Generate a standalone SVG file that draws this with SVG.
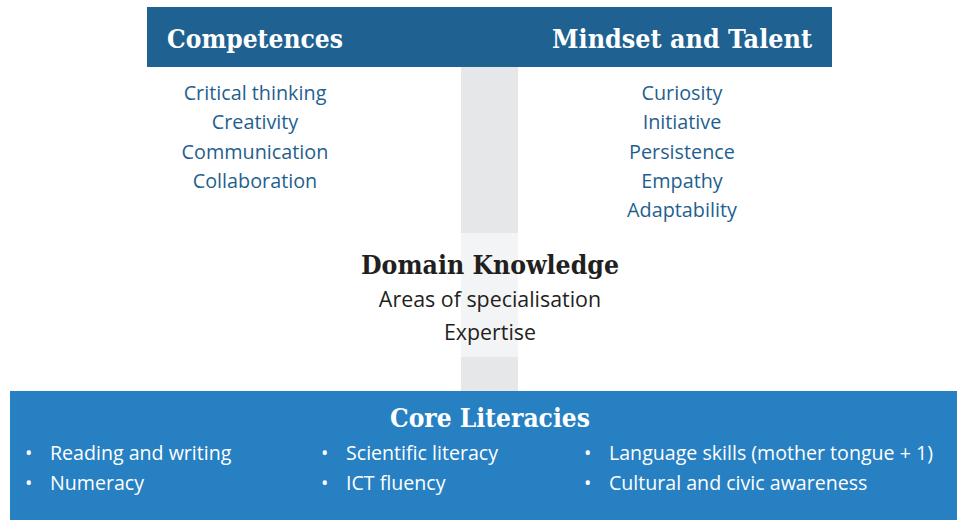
<svg xmlns="http://www.w3.org/2000/svg" width="957" height="520" viewBox="0 0 957 520">
<style>
.hd{font-family:"DejaVu Serif",serif;font-weight:bold;font-size:26px;fill:#ffffff}
.hk{font-family:"DejaVu Serif",serif;font-weight:bold;font-size:26px;fill:#231f20}
.it{font-family:"Open Sans","Noto Sans",sans-serif;font-size:19.8px;fill:#1f5f8f;text-anchor:middle}
.dk{font-family:"Open Sans","Noto Sans",sans-serif;font-size:21.4px;fill:#231f20;text-anchor:middle}
.cl{font-family:"Open Sans","Noto Sans",sans-serif;font-size:19.6px;fill:#ffffff}
</style>
<rect width="957" height="520" fill="#ffffff"/>
<g id="spine">
<rect x="461" y="67" width="57" height="166" fill="#e6e7e9"/>
<rect x="461" y="233" width="57" height="124" fill="#f3f4f6"/>
<rect x="461" y="357" width="57" height="34" fill="#e6e7e9"/>
</g>
<g id="top-bar">
<rect x="147" y="7" width="685" height="60" fill="#1f6190"/>
</g>
<g id="competences">
<text class="hd" x="167" y="48" textLength="176" lengthAdjust="spacingAndGlyphs">Competences</text>
<text class="it" x="255" y="100">Critical thinking</text>
<text class="it" x="255" y="129">Creativity</text>
<text class="it" x="255" y="159">Communication</text>
<text class="it" x="255" y="188">Collaboration</text>
</g>
<g id="mindset">
<text class="hd" x="552" y="48" textLength="260" lengthAdjust="spacingAndGlyphs">Mindset and Talent</text>
<text class="it" x="682" y="100">Curiosity</text>
<text class="it" x="682" y="129">Initiative</text>
<text class="it" x="682" y="159">Persistence</text>
<text class="it" x="682" y="188">Empathy</text>
<text class="it" x="682" y="217">Adaptability</text>
</g>
<g id="domain">
<text class="hk" x="361" y="274" textLength="258" lengthAdjust="spacingAndGlyphs">Domain Knowledge</text>
<text class="dk" x="490" y="307">Areas of specialisation</text>
<text class="dk" x="490" y="340">Expertise</text>
</g>
<g id="core">
<rect x="10" y="391" width="947" height="129" fill="#2680c2"/>
<text class="hd" x="390" y="427" textLength="200" lengthAdjust="spacingAndGlyphs">Core Literacies</text>
<text class="cl" x="25" y="460">•</text><text class="cl" x="50" y="460">Reading and writing</text>
<text class="cl" x="25" y="490">•</text><text class="cl" x="50" y="490">Numeracy</text>
<text class="cl" x="321" y="460">•</text><text class="cl" x="346" y="460">Scientific literacy</text>
<text class="cl" x="321" y="490">•</text><text class="cl" x="346" y="490">ICT fluency</text>
<text class="cl" x="584" y="460">•</text><text class="cl" x="609" y="460">Language skills (mother tongue + 1)</text>
<text class="cl" x="584" y="490">•</text><text class="cl" x="609" y="490">Cultural and civic awareness</text>
</g>
<g id="connectors"></g>
</svg>
